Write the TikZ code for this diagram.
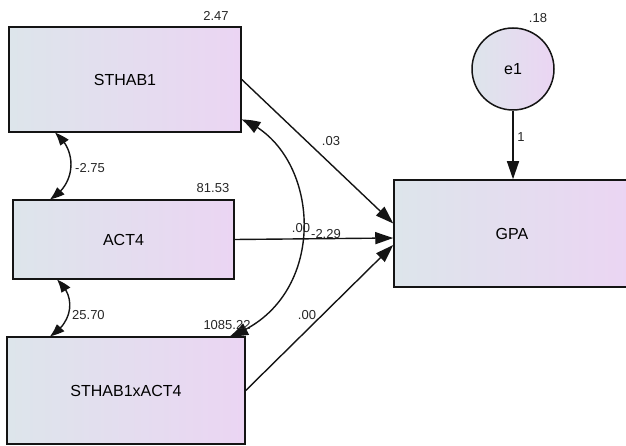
\documentclass[tikz,border=0pt]{standalone}
\usepackage{fontspec}
\setmainfont{Liberation Sans}
\usetikzlibrary{arrows.meta,bending}
\tikzset{>={Triangle[length=18pt,width=12pt]}}
\definecolor{varleft}{RGB}{221,229,235}
\definecolor{varright}{RGB}{235,213,243}
\colorlet{linecol}{black!92}
\tikzset{
  var/.style={draw=linecol,line width=1.5pt,left color=varleft,right color=varright,
              shading angle=90,inner sep=0pt,font=\fontsize{16}{19}\selectfont},
  obsbox/.style={var,rectangle,minimum width=#1},
  obsbox/.default=232pt,
  errvar/.style={var,circle,minimum size=82pt},
  path/.style={line width=1.4pt,linecol,->},
  cov/.style={line width=1.4pt,linecol,{Triangle[length=#1,width=0.7*#1,bend]}-{Triangle[length=#1,width=0.7*#1,bend]}},
  cov/.default=14pt,
  est/.style={font=\fontsize{13}{15}\selectfont,text=black!85,inner sep=0pt}}

\begin{document}
\begin{tikzpicture}[x=1pt,y=-1pt]
  \useasboundingbox (0,0) rectangle (626,446);

  % VARIABLES
  \node[obsbox=232pt,minimum height=105pt] (sthab) at (125,79.5) {STHAB1};
  \node[obsbox=221pt,minimum height=79pt] (act) at (123.5,239.5) {ACT4};
  \node[obsbox=238pt,minimum height=107pt] (inter) at (126,390.5) {STHAB1xACT4};
  \node[obsbox=236pt,minimum height=107pt] (gpa) at (512,233.5) {GPA};
  \node[errvar] (e1) at (513,69) {e1};

  % PATHS
  \draw[path] (sthab.east) -- ([yshift=10pt]gpa.west);
  \draw[path] (act.east) -- ([yshift=-4.5pt]gpa.west);
  \draw[path] (inter.east) -- ([yshift=-11.5pt]gpa.west);
  \draw[path] (e1.south) -- (e1.south |- gpa.north);

  % COVARIANCES
  \draw[cov] ([xshift=-70pt]sthab.south) .. controls (78,150) and (76,185) .. ([xshift=-73.5pt]act.north);
  \draw[cov] ([xshift=-66.5pt]act.south) .. controls (76,295) and (74,322) .. ([xshift=-76pt]inter.north);
  \draw[cov=18pt] ([yshift=-40pt]sthab.east) .. controls (322,150) and (332,300) .. ([xshift=104pt]inter.north);

  % ESTIMATES
  \node[est] (v1) at (216,16) {2.47};
  \node[est] (v2) at (213,188) {81.53};
  \node[est] (v3) at (227,325) {1085.22};
  \node[est] (v4) at (538,18) {.18};
  \node[est,anchor=west] (c1) at (75,168) {-2.75};
  \node[est,anchor=west] (c2) at (72,315) {25.70};
  \node[est] (c3) at (301,228) {.00};
  \node[est] (b1) at (331,141) {.03};
  \node[est] (b2) at (326,234) {-2.29};
  \node[est] (b3) at (307,315) {.00};
  \node[est] (b4) at (521,137) {1};
\end{tikzpicture}
\end{document}
